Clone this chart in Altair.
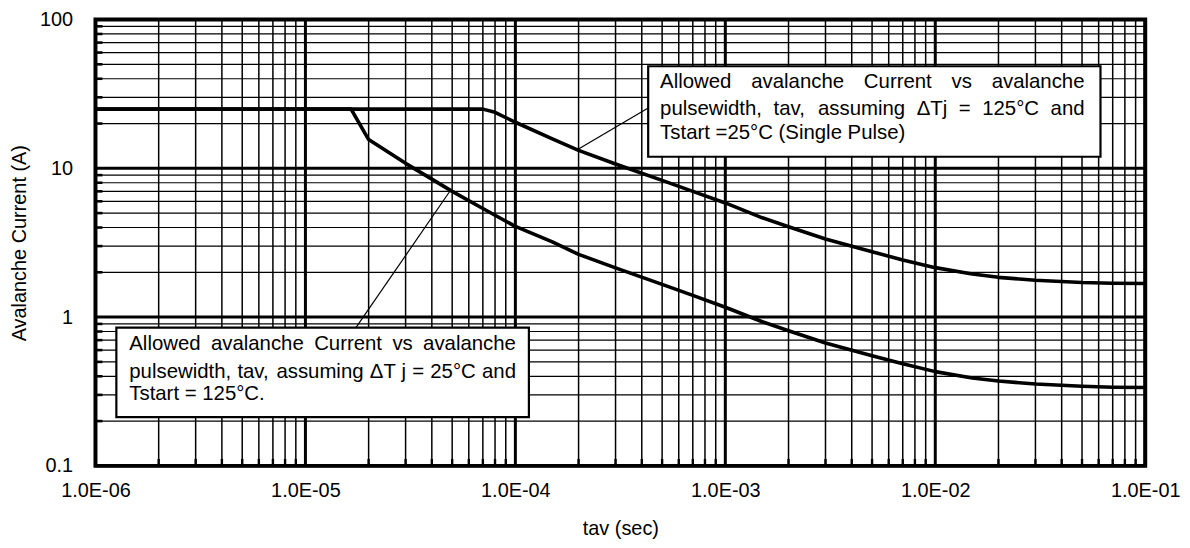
import math
import altair as alt
import pandas as pd

# ---------------- data ----------------
# Upper curve: dTj = 125C, Tstart = 25C (single pulse)
t_upper = [1e-6, 7e-5, 8e-5, 1e-4, 1.5e-4, 2e-4, 3e-4, 5e-4, 7e-4, 1e-3, 1.5e-3,
           2e-3, 3e-3, 5e-3, 7e-3, 1e-2, 1.5e-2, 2e-2, 3e-2, 5e-2, 7e-2, 1e-1]
i_upper = [25, 25, 23.8, 20.4, 15.8, 13.2, 10.7, 8.3, 7.0, 5.85, 4.65,
           4.05, 3.35, 2.75, 2.42, 2.15, 1.95, 1.85, 1.77, 1.71, 1.69, 1.68]

# Lower curve: dTj = 25C, Tstart = 125C
t_lower = [1e-6, 1.65e-5, 2e-5, 3e-5, 5e-5, 7e-5, 1e-4, 1.5e-4, 2e-4, 3e-4, 5e-4, 7e-4,
           1e-3, 1.5e-3, 2e-3, 3e-3, 5e-3, 7e-3, 1e-2, 1.5e-2, 2e-2, 3e-2, 5e-2, 7e-2, 1e-1]
i_lower = [25, 25, 15.6, 10.8, 7.0, 5.37, 4.07, 3.2, 2.64, 2.14, 1.66, 1.4,
           1.165, 0.93, 0.81, 0.67, 0.55, 0.485, 0.43, 0.39, 0.372, 0.355, 0.343, 0.338, 0.336]

x_decades = [1e-6, 1e-5, 1e-4, 1e-3, 1e-2, 1e-1]
x_labels = ["1.0E-06", "1.0E-05", "1.0E-04", "1.0E-03", "1.0E-02", "1.0E-01"]
y_decades = [0.1, 1, 10, 100]
y_labels = ["0.1", "1", "10", "100"]
minor_mult = [2, 3, 4, 5, 6, 7, 8, 9]

x_title = "tav (sec)"
y_title = "Avalanche Current (A)"

box1_lines = [
    "Allowed avalanche Current vs avalanche",
    "pulsewidth, tav, assuming ΔTj = 125°C and",
    "Tstart =25°C (Single Pulse)",
]
box2_lines = [
    "Allowed avalanche Current vs avalanche",
    "pulsewidth, tav, assuming ΔT\u00a0j = 25°C and",
    "Tstart = 125°C.",
]

# ---------------- layout ----------------
LEFT, TOP = 96, 18          # plot origin on the page
W, H = 1056, 449
XMIN, XMAX = 1e-6, 1e-1
YMIN, YMAX = 0.1, 100
FONT = "Liberation Sans"
BOX_FS = 20.5


def px_to_x(px):
    lo, hi = math.log10(XMIN), math.log10(XMAX)
    return 10 ** (lo + (hi - lo) * (px - LEFT) / W)


def py_to_y(py):
    lo, hi = math.log10(YMIN), math.log10(YMAX)
    return 10 ** (hi - (hi - lo) * (py - TOP) / H)


# Arial / Liberation Sans advance widths (per 1000 em)
WIDTHS = {" ": 278, "\u00a0": 278, ",": 278, ".": 278, "(": 333, ")": 333, "-": 333, "=": 584,
          "°": 400, "Δ": 668, "A": 667, "C": 722, "P": 667, "S": 667, "T": 611,
          "a": 556, "c": 500, "d": 556, "e": 556, "g": 556, "h": 556, "i": 222,
          "j": 222, "l": 222, "m": 833, "n": 556, "o": 556, "p": 556, "r": 333,
          "s": 500, "t": 278, "u": 556, "v": 500, "w": 722}


def tw(s, fs):
    return sum(WIDTHS.get(c, 556) for c in s) / 1000.0 * fs


def line_items(line, left, right, base, justify):
    if not justify:
        return [(left, base, line)]
    words = line.split(" ")
    total = sum(tw(w, BOX_FS) for w in words)
    gap = (right - left - total) / (len(words) - 1)
    out, x = [], left
    for w in words:
        out.append((x, base, w))
        x += tw(w, BOX_FS) + gap
    return out


# page-pixel geometry of the annotation boxes
boxes = [
    # (left, right, top, bottom, text_left, text_right, baselines, lines)
    (652, 1107, 65, 156, 664, 1091, [86.7, 114.3, 137.7], box1_lines),
    (117, 532, 328, 418, 130, 519, [350, 378.3, 400.7], box2_lines),
]
leaders = [((581.5, 148.5), (652, 107)), ((453, 190), (358, 328))]

words = []
rects = []
for (l, r, t, b, tl, tr, bases, lines) in boxes:
    rects.append({"x": px_to_x(l), "x2": px_to_x(r), "y": py_to_y(t), "y2": py_to_y(b)})
    for k, (line, base) in enumerate(zip(lines, bases)):
        for (px, py, w) in line_items(line, tl, tr, base, k < len(lines) - 1):
            words.append({"x": px_to_x(px), "y": py_to_y(py), "text": w})

lead = [{"x": px_to_x(a[0]), "y": py_to_y(a[1]), "x2": px_to_x(b[0]), "y2": py_to_y(b[1])}
        for a, b in leaders]

# ---------------- frames ----------------
curves = pd.concat([
    pd.DataFrame({"t": t_upper, "I": i_upper, "s": "upper"}),
    pd.DataFrame({"t": t_lower, "I": i_lower, "s": "lower"}),
])
x_minor = [d * m for d in x_decades[:-1] for m in minor_mult]
y_minor = [d * m for d in y_decades[:-1] for m in minor_mult]


def label_expr(vals, labs):
    parts = [f"abs(log(datum.value)/LN10 - ({math.log10(v):.6f})) < 0.01 ? '{lab}'"
             for v, lab in zip(vals, labs)]
    return " : ".join(parts) + " : ''"


xscale = alt.Scale(type="log", domain=[XMIN, XMAX], nice=False)
yscale = alt.Scale(type="log", domain=[YMIN, YMAX], nice=False)

base_axis = dict(grid=False, ticks=False, tickSize=0, domain=False, labelFont=FONT,
                 labelFontSize=20, labelColor="black", titleFont=FONT, titleFontSize=20,
                 titleFontWeight="normal", titleColor="black", labelFlush=False,
                 labelOverlap=False)

xaxis = alt.Axis(values=x_decades, labelExpr=label_expr(x_decades, x_labels),
                 labelPadding=15, titlePadding=18, **base_axis)
yaxis = alt.Axis(values=y_decades, labelExpr=label_expr(y_decades, y_labels),
                 labelPadding=23, titlePadding=10, **base_axis)

vminor = alt.Chart(pd.DataFrame({"x": x_minor})).mark_rule(color="black", strokeWidth=1.5).encode(
    x=alt.X("x:Q", scale=xscale, axis=xaxis, title=x_title))
vmajor = alt.Chart(pd.DataFrame({"x": x_decades})).mark_rule(color="black", strokeWidth=3).encode(
    x=alt.X("x:Q", scale=xscale))
hminor = alt.Chart(pd.DataFrame({"y": y_minor})).mark_rule(color="black", strokeWidth=1.2).encode(
    y=alt.Y("y:Q", scale=yscale, axis=yaxis, title=y_title))
hmajor = alt.Chart(pd.DataFrame({"y": y_decades})).mark_rule(color="black", strokeWidth=3).encode(
    y=alt.Y("y:Q", scale=yscale))
yticks = alt.Chart(pd.DataFrame({"y": y_minor})).mark_rule(color="black", strokeWidth=2.6).encode(
    y=alt.Y("y:Q", scale=yscale), x=alt.value(0), x2=alt.value(7))
xticks = alt.Chart(pd.DataFrame({"x": x_minor})).mark_rule(color="black", strokeWidth=2.4).encode(
    x=alt.X("x:Q", scale=xscale), y=alt.value(H), y2=alt.value(H - 7))

lines = alt.Chart(curves).mark_line(color="black", strokeWidth=3.6, strokeJoin="round").encode(
    x=alt.X("t:Q", scale=xscale), y=alt.Y("I:Q", scale=yscale), detail="s:N")

box = alt.Chart(pd.DataFrame(rects)).mark_rect(fill="white", stroke="black", strokeWidth=2.2).encode(
    x=alt.X("x:Q", scale=xscale), x2="x2:Q", y=alt.Y("y:Q", scale=yscale), y2="y2:Q")
leader = alt.Chart(pd.DataFrame(lead)).mark_rule(color="black", strokeWidth=1.2).encode(
    x=alt.X("x:Q", scale=xscale), x2="x2:Q", y=alt.Y("y:Q", scale=yscale), y2="y2:Q")
texts = alt.Chart(pd.DataFrame(words)).mark_text(
    align="left", baseline="alphabetic", font=FONT, fontSize=BOX_FS, color="black").encode(
    x=alt.X("x:Q", scale=xscale), y=alt.Y("y:Q", scale=yscale), text="text:N")

chart = alt.layer(vminor, hminor, vmajor, hmajor, yticks, xticks, lines, leader, box, texts).properties(
    width=W, height=H,
    autosize=alt.AutoSizeParams(type="none"),
    padding={"left": LEFT - 8, "top": TOP - 8, "right": 37, "bottom": 80},
).configure_view(stroke="black", strokeWidth=4)

chart.save("out.html", embed_options={"renderer": "svg", "actions": False})
